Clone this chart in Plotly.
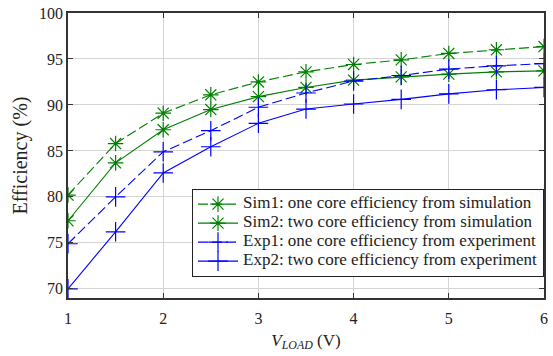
import plotly.graph_objects as go

x_load = [1, 1.5, 2, 2.5, 3, 3.5, 4, 4.5, 5, 5.5, 6]
sim1 = [80.2, 85.8, 89.1, 91.1, 92.5, 93.6, 94.4, 94.9, 95.6, 96.0, 96.35]
sim2 = [77.4, 83.7, 87.3, 89.5, 90.9, 91.9, 92.7, 93.05, 93.35, 93.6, 93.7]
exp1 = [74.9, 80.0, 84.9, 87.2, 89.75, 91.3, 92.6, 93.2, 93.9, 94.25, 94.5]
exp2 = [70.0, 76.2, 82.6, 85.45, 88.0, 89.55, 90.1, 90.6, 91.2, 91.65, 91.9]

names = ["Sim1: one core efficiency from simulation",
         "Sim2: two core efficiency from simulation",
         "Exp1: one core efficiency from experiment",
         "Exp2: two core efficiency from experiment"]

GREEN = "#008000"
BLUE = "#0000ff"
FONT = "Liberation Serif, Times New Roman, DejaVu Serif, serif"
DASH = "10px,4px"

fig = go.Figure()
specs = [
    (sim1, names[0], GREEN, DASH, "asterisk-open", 13),
    (sim2, names[1], GREEN, "solid", "asterisk-open", 13),
    (exp1, names[2], BLUE, DASH, "cross-thin-open", 14),
    (exp2, names[3], BLUE, "solid", "cross-thin-open", 14),
]
for ys, nm, col, dash, sym, sz in specs:
    fig.add_trace(go.Scatter(
        x=x_load, y=ys, mode="lines+markers",
        name='<span style="font-size:17px">' + nm + '</span>',
        line=dict(color=col, width=1.1, dash=dash),
        marker=dict(symbol=sym, size=sz, color=col, line=dict(color=col, width=1.2)),
    ))

axis_common = dict(
    showgrid=True, gridcolor="#d4d4d4", gridwidth=1,
    showline=True, linecolor="#333333", linewidth=1.5, mirror="ticks",
    ticks="inside", ticklen=5, tickcolor="#333333",
    tickfont=dict(family=FONT, size=16, color="#222222"),
    zeroline=False,
)

fig.update_xaxes(range=[1, 6], dtick=1, ticklabelstandoff=5, **axis_common,
                 title=dict(text="<i>V<sub>LOAD</sub></i> (V)",
                            font=dict(family=FONT, size=17, color="#222222"),
                            standoff=8))
fig.update_yaxes(range=[69, 100], tickvals=[70, 75, 80, 85, 90, 95, 100], **axis_common,
                 title=dict(text="Efficiency (%)",
                            font=dict(family=FONT, size=20, color="#222222"),
                            standoff=6))

fig.update_layout(
    width=553, height=356,
    margin=dict(l=68, r=5, t=12, b=58),
    paper_bgcolor="white", plot_bgcolor="white",
    font=dict(family=FONT, color="#222222"),
    legend=dict(
        x=1, xanchor="right", y=0.075, yanchor="bottom",
        bgcolor="white", bordercolor="#222222", borderwidth=1,
        font=dict(family=FONT, size=11, color="#222222"),
        tracegroupgap=0, itemwidth=40,
    ),
)

fig.write_html("out.html")
